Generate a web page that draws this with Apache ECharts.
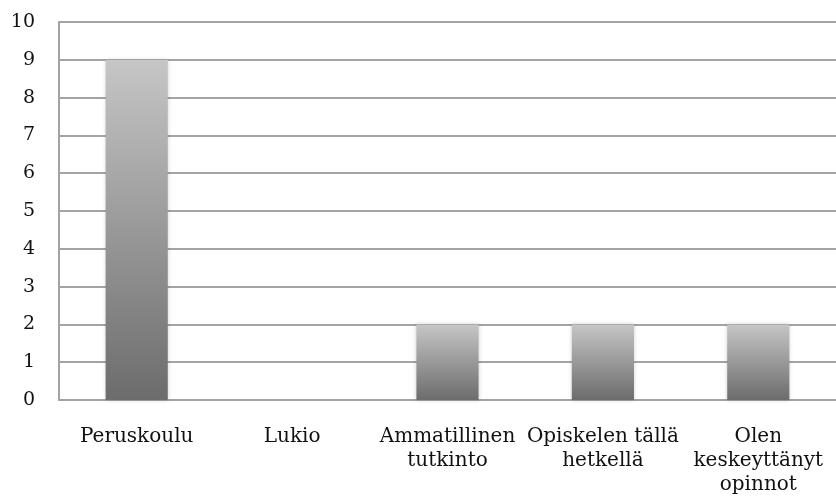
<!DOCTYPE html>
<html><head><meta charset="utf-8">
<script src="https://cdn.jsdelivr.net/npm/echarts@6/dist/echarts.min.js"></script>
<style>html,body{margin:0;padding:0;background:#fff}#c{width:836px;height:502px}</style>
</head><body><div id="c"></div>
<script>
const categories = ['Peruskoulu', 'Lukio', 'Ammatillinen\ntutkinto', 'Opiskelen tällä\nhetkellä', 'Olen\nkeskeyttänyt\nopinnot'];
const values = [9, 0, 2, 2, 2];
const yTicks = [0, 1, 2, 3, 4, 5, 6, 7, 8, 9, 10];

const chart = echarts.init(document.getElementById('c'), null, {renderer: 'canvas'});
const font = 'DejaVu Serif';
chart.setOption({
  animation: false,
  grid: {left: 59, right: 0, top: 22, bottom: 102, containLabel: false},
  xAxis: {
    type: 'category',
    data: categories,
    axisLine: {show: true, lineStyle: {color: '#a3a3a3', width: 2}},
    axisTick: {show: false},
    axisLabel: {interval: 0, margin: 25, color: '#111', fontFamily: font, fontSize: 20, lineHeight: 24}
  },
  yAxis: {
    type: 'value',
    min: yTicks[0], max: yTicks[yTicks.length - 1], interval: 1,
    axisLine: {show: true, lineStyle: {color: '#a3a3a3', width: 2}},
    axisTick: {show: false},
    splitLine: {show: true, lineStyle: {color: '#a3a3a3', width: 2}},
    axisLabel: {margin: 24, color: '#111', fontFamily: font, fontSize: 19}
  },
  series: [{
    type: 'bar',
    data: values,
    barWidth: '40%',
    itemStyle: {
      color: new echarts.graphic.LinearGradient(0, 0, 0, 1, [
        {offset: 0, color: '#c6c6c6'},
        {offset: 1, color: '#6c6c6c'}
      ]),
      shadowColor: 'rgba(0,0,0,0.18)',
      shadowBlur: 4
    }
  }]
});
</script></body></html>
